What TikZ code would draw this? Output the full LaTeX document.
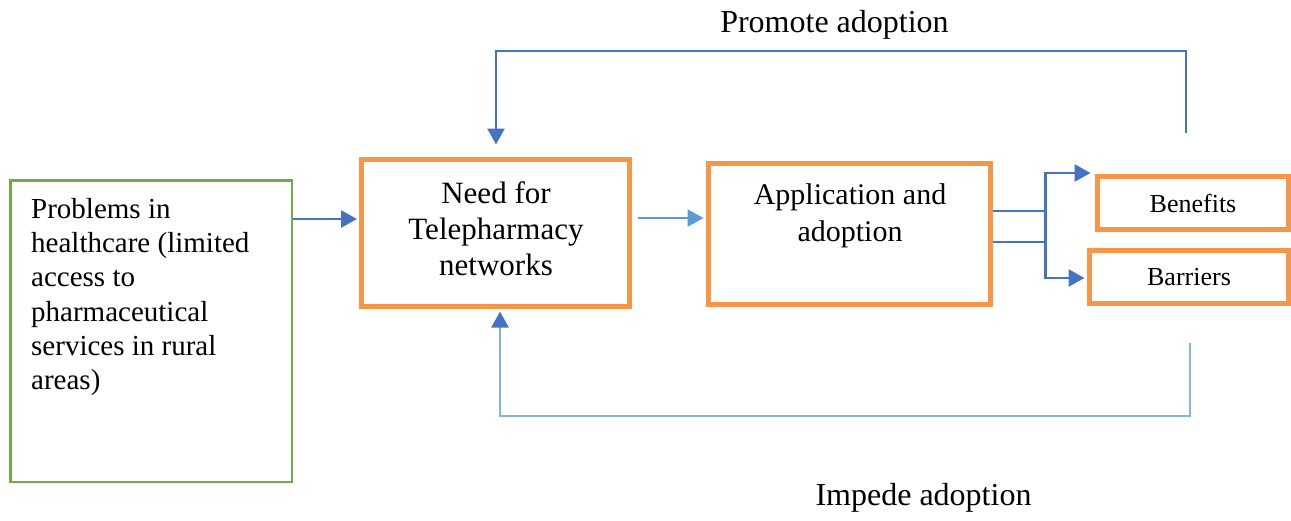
\documentclass[tikz,border=0pt]{standalone}
\usepackage{fontspec}
\setmainfont{Liberation Serif}
\usetikzlibrary{arrows.meta}
\definecolor{boxorange}{HTML}{F79646}
\definecolor{boxgreen}{HTML}{70AD47}
\definecolor{linkblue}{HTML}{4472C4}
\definecolor{lightlink}{HTML}{5B9BD5}
\definecolor{paleline}{HTML}{82B4E6}
\begin{document}
\begin{tikzpicture}[x=1pt,y=-1pt,
		orangebox/.style={draw=boxorange,line width=5pt,inner sep=0pt},
		greenbox/.style={draw=boxgreen,line width=2.5pt,inner sep=0pt},
		flow/.style={draw=linkblue,line width=2.8pt,-{Triangle[width=17pt,length=16pt]}},
		lightflow/.style={draw=lightlink,line width=2.4pt,-{Triangle[width=17pt,length=16pt]}},
		paleflow/.style={draw=paleline,line width=2.4pt,-{Triangle[width=17pt,length=16pt,color=linkblue]}},
		boxtext/.style={inner sep=0pt,align=center}]
				\useasboundingbox (0,0) rectangle (1291,520);

				% boxes
				\node[greenbox,minimum width=281.5pt,minimum height=301.5pt] (problems) at (151,331) {};
				\node[orangebox,minimum width=268pt,minimum height=147pt] (need) at (495.5,233) {};
				\node[orangebox,minimum width=282pt,minimum height=141pt] (app) at (849.5,234) {};
				\node[orangebox,minimum width=191pt,minimum height=53pt,font=\fontsize{26}{30}\selectfont] (benefits) at (1193,203) {Benefits};
				\node[orangebox,minimum width=199pt,minimum height=53pt,font=\fontsize{26}{30}\selectfont] (barriers) at (1189,277) {Barriers};

				% texts
				\node[boxtext,align=left,anchor=north west,font=\fontsize{29}{34.3}\selectfont] (problemstext) at (31,198)
					{Problems in\\healthcare (limited\\access to\\pharmaceutical\\services in rural\\areas)};
				\node[boxtext,anchor=north,font=\fontsize{31}{36}\selectfont] (needtext) at (496,181)
					{Need for\\Telepharmacy\\networks};
				\node[boxtext,anchor=north,font=\fontsize{30}{37}\selectfont] (apptext) at (850,183.5)
					{Application and\\adoption};

				\node[anchor=base,inner sep=0pt,font=\fontsize{32}{38}\selectfont] (promote) at (834.5,32) {Promote adoption};
				\node[anchor=base,inner sep=0pt,font=\fontsize{32}{38}\selectfont] (impede) at (923.5,505) {Impede adoption};

				% connectors
				\draw[flow] ([yshift=112pt]problems.east) -- ([xshift=-2pt,yshift=14pt]need.west);
				\draw[lightflow] ([xshift=5.5pt,yshift=15pt]need.east) -- ([xshift=-2.5pt,yshift=16pt]app.west);

				\draw[flow] ([yshift=-8pt]app.east) -- ++(52.5,0) |- ([xshift=-4.5pt,yshift=30pt]benefits.west);
				\draw[flow] ([yshift=23pt]app.east) -- ++(52.5,0) |- ([xshift=-2.5pt,yshift=-1pt]barriers.west);

				\coordinate (promotefrom) at (1186,133);
				\coordinate (impedefrom) at (1190,343);
				\draw[flow,line width=2.4pt] (promotefrom) -- ++(0,-82) -| ([xshift=0.5pt,yshift=12.5pt]need.north);
				\draw[paleflow] (impedefrom) -- ++(0,73) -| ([xshift=4.5pt,yshift=-2.5pt]need.south);

		\end{tikzpicture}
\end{document}
